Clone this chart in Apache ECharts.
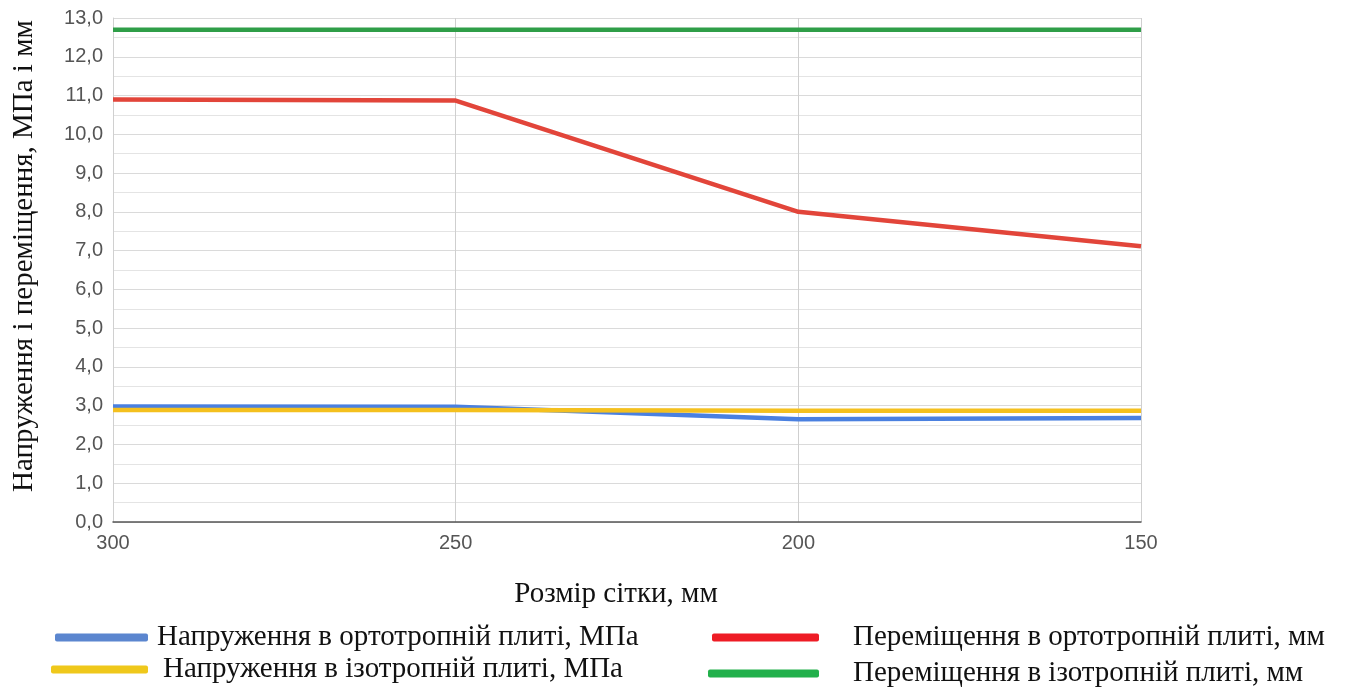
<!DOCTYPE html>
<html><head><meta charset="utf-8">
<script src="https://cdn.jsdelivr.net/npm/echarts@6/dist/echarts.min.js"></script>
<style>html,body{margin:0;padding:0;background:#fff}#c{width:1352px;height:690px}</style>
</head><body><div id="c"></div>
<script>
var categories = ['300', '250', '200', '150'];
var stressOrtho = [2.98, 2.97, 2.65, 2.68];
var stressIso = [2.89, 2.89, 2.87, 2.87];
var dispOrtho = [10.9, 10.87, 8.0, 7.11];
var dispIso = [12.7, 12.7, 12.7, 12.7];
var seriesNames = [
  'Напруження в ортотропній плиті, МПа',
  'Напруження в ізотропній плиті, МПа',
  'Переміщення в ортотропній плиті, мм',
  'Переміщення в ізотропній плиті, мм'
];
var xTitle = 'Розмір сітки, мм';
var yTitle = 'Напруження і переміщення, МПа і мм';

var lineColors = ['#4a80e0', '#f4c01e', '#e2453a', '#2f9e48'];
var legendColors = ['#5b86cf', '#efc81b', '#ee1c25', '#22b04b'];
var serif = '"Liberation Serif", "DejaVu Serif", serif';
var sans = '"Liberation Sans", Arial, sans-serif';

var chart = echarts.init(document.getElementById('c'));
var dataSets = [stressOrtho, stressIso, dispOrtho, dispIso];
var legendPos = [
  {left: 55, top: 623, w: 93, pad: 4},
  {left: 51, top: 655, w: 97, pad: 10},
  {left: 712, top: 623, w: 107, pad: 29},
  {left: 708, top: 659, w: 111, pad: 29}
];
var legends = seriesNames.map(function (n, i) {
  var p = legendPos[i];
  return {
    left: p.left, top: p.top, padding: 0,
    itemWidth: p.w, itemHeight: 8,
    icon: 'roundRect',
    selectedMode: false,
    data: [{name: n, itemStyle: {color: legendColors[i]}}],
    textStyle: {fontFamily: serif, fontSize: 29, color: '#111', padding: [0, 0, 0, p.pad]}
  };
});
chart.setOption({
  animation: false,
  grid: {left: 113, right: 211, top: 18, bottom: 168},
  legend: legends,
  xAxis: {
    type: 'category', data: categories, boundaryGap: false,
    name: xTitle, nameLocation: 'middle', nameGap: 58,
    nameTextStyle: {fontFamily: serif, fontSize: 29, color: '#111', padding: [0, 22, 0, 0]},
    axisLine: {lineStyle: {color: '#555', width: 1.5}},
    axisTick: {show: false},
    axisLabel: {fontFamily: sans, fontSize: 20, color: '#555', margin: 11},
    splitLine: {show: true, lineStyle: {color: '#cfcfcf', width: 1}}
  },
  yAxis: {
    type: 'value', min: 0, max: 13, interval: 1,
    name: yTitle, nameLocation: 'middle', nameGap: 74,
    nameTextStyle: {fontFamily: serif, fontSize: 29, color: '#111', padding: [0, 0, 0, 28]},
    axisLine: {show: true, lineStyle: {color: '#d0d0d0'}},
    axisTick: {show: false},
    axisLabel: {
      fontFamily: sans, fontSize: 20, color: '#555', margin: 10,
      formatter: function (v) { return v.toFixed(1).replace('.', ','); }
    },
    splitLine: {lineStyle: {color: '#dadada'}},
    minorTick: {show: false, splitNumber: 2},
    minorSplitLine: {show: true, lineStyle: {color: '#e4e4e4'}}
  },
  series: seriesNames.map(function (n, i) {
    return {
      name: n, type: 'line', data: dataSets[i], showSymbol: false, symbol: 'none',
      lineStyle: {color: lineColors[i], width: 4.5}, itemStyle: {color: lineColors[i]}
    };
  })
});
</script></body></html>
